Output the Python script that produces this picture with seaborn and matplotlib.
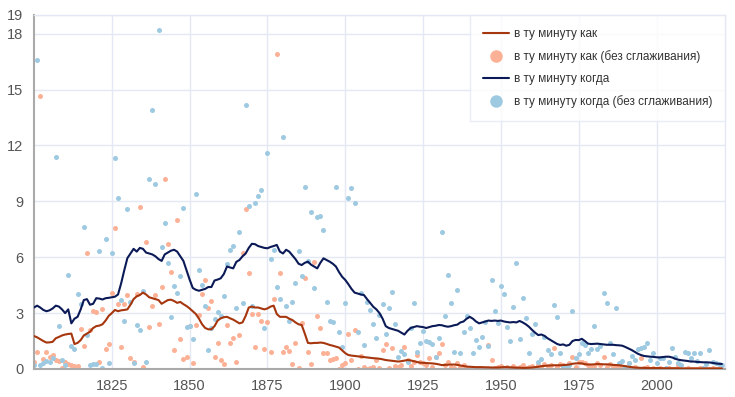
import numpy as np
import pandas as pd
import matplotlib
matplotlib.use("Agg")
import matplotlib.pyplot as plt
from matplotlib.lines import Line2D
import seaborn as sns

# years 1800..2021, one value per year
years = list(range(1800, 2022))

# "в ту минуту как" raw values
kak_raw = [
    0.4, 0.93, 14.67, 0.52, 0.93, 0.62, 0.75, 0.46, 0.45, 0.03,
    0.35, 0.25, 0.2, 0.18, 0.15, 2.14, 1.25, 6.2, 2.1, 3.1,
    3.05, 0.4, 3.2, 1.1, 1.35, 4.1, 7.55, 3.5, 1.2, 3.5,
    3.98, 0.57, 0.4, 4.0, 8.7, 0.1, 6.83, 2.27, 3.38, 3.97,
    2.4, 4.4, 10.2, 6.7, 5.2, 1.0, 7.99, 1.6, 0.52, 0.62,
    2.3, 0.3, 2.35, 2.9, 4.0, 4.8, 3.3, 3.67, 0.62, 1.4,
    0.46, 0.27, 2.35, 1.4, 1.64, 0.4, 1.8, 6.2, 8.6, 5.14,
    2.97, 1.16, 2.97, 2.6, 1.1, 2.5, 0.93, 3.74, 16.9, 5.17,
    0.93, 1.2, 0.98, 0.27, 1.4, 0.03, 2.45, 4.87, 0.9, 0.27,
    5.76, 2.85, 2.2, 0.84, 0.84, 0.5, 0.55, 0.6, 0.0, 0.2,
    0.3, 1.88, 0.46, 2.1, 0.0, 0.7, 0.1, 0.0, 0.05, 0.1,
    0.5, 0.03, 1.0, 1.33, 0.03, 1.14, 0.15, 0.1, 0.2, 1.2,
    0.5, 0.14, 0.4, 0.75, 0.4, 0.3, 0.2, 0.57, 0.1, 0.62,
    0.88, 1.33, 0.2, 0.4, 0.1, 0.05, 0.3, 0.1, 0.2, 0.0,
    0.0, 0.02, 0.0, 0.05, 0.0, 0.02, 1.28, 0.5, 0.05, 0.1,
    0.15, 0.05, 0.1, 0.02, 0.15, 0.05, 0.1, 0.2, 0.05, 0.1,
    0.15, 0.05, 0.2, 0.1, 0.25, 0.15, 0.2, 1.14, 0.1, 0.25,
    0.2, 0.15, 0.3, 0.66, 0.1, 0.35, 0.4, 0.3, 0.2, 0.1,
    0.15, 0.3, 0.2, 0.63, 0.1, 0.25, 0.15, 0.1, 0.2, 0.05,
    0.1, 0.34, 0.05, 0.1, 0.02, 0.6, 0.05, 0.1, 0.02, 0.05,
    0.0, 0.05, 0.02, 0.0, 0.05, 0.02, 0.0, 0.2, 0.02, 0.0,
    0.05, 0.0, 0.02, 0.0, 0.05, 0.0, 0.02, 0.0, 0.05, 0.0,
    0.0, 0.02,
]

# "в ту минуту когда" raw values
kogda_raw = [
    0.2, 16.6, 0.2, 0.3, 0.45, 0.35, 0.6, 11.4, 2.3, 0.5,
    0.2, 5.05, 1.25, 1.1, 4.03, 3.5, 7.6, 1.8, 0.2, 0.25,
    0.25, 6.35, 0.03, 7.0, 0.3, 6.2, 11.3, 9.16, 3.7, 2.56,
    8.6, 3.6, 0.3, 2.35, 2.1, 4.2, 0.4, 10.2, 13.9, 9.95,
    18.2, 6.57, 7.86, 5.67, 2.8, 4.45, 4.07, 4.99, 8.65, 2.27,
    2.3, 1.6, 9.4, 5.3, 4.5, 3.4, 1.0, 2.2, 2.7, 3.06,
    2.85, 3.9, 5.64, 6.4, 6.6, 3.29, 7.36, 3.56, 14.15, 8.75,
    3.4, 8.9, 9.3, 9.6, 2.2, 11.6, 5.9, 6.4, 4.4, 3.74,
    12.47, 3.38, 2.6, 3.6, 4.6, 6.35, 5.0, 9.75, 5.8, 8.45,
    4.37, 8.14, 8.2, 7.46, 3.6, 2.6, 2.5, 9.75, 2.0, 1.2,
    3.56, 9.2, 9.73, 8.93, 1.99, 4.06, 1.28, 3.6, 3.16, 2.4,
    1.64, 2.9, 3.49, 1.88, 3.25, 4.15, 2.4, 0.66, 0.96, 0.78,
    0.4, 2.2, 3.56, 0.89, 1.37, 2.04, 1.5, 1.43, 1.33, 0.66,
    1.68, 7.34, 2.86, 5.04, 3.56, 0.93, 4.24, 0.84, 2.0, 2.84,
    2.2, 0.88, 1.56, 1.16, 1.7, 2.5, 1.23, 4.8, 3.1, 2.46,
    4.47, 4.03, 2.27, 1.5, 3.35, 5.7, 1.6, 3.83, 2.72, 0.84,
    1.9, 2.4, 0.4, 0.54, 1.74, 1.0, 0.8, 3.43, 2.77, 0.88,
    0.1, 0.15, 0.2, 3.1, 0.6, 0.78, 1.37, 1.28, 0.88, 1.1,
    2.3, 1.05, 1.23, 4.06, 3.56, 1.41, 0.78, 3.25, 0.3, 0.43,
    0.1, 0.34, 0.72, 0.5, 1.05, 1.14, 1.2, 1.37, 0.5, 0.84,
    0.3, 0.6, 0.57, 0.03, 0.4, 1.14, 0.66, 0.34, 0.2, 0.93,
    0.88, 0.6, 0.88, 0.45, 0.84, 0.03, 0.27, 1.0, 0.4, 0.3,
    0.25, 0.2,
]

# smoothed lines
kak_smooth = [
    1.77, 1.7, 1.6, 1.5, 1.42, 1.43, 1.46, 1.65, 1.72, 1.8,
    1.85, 1.88, 1.9, 1.34, 1.4, 1.55, 1.8, 1.9, 2.0, 2.2,
    2.3, 2.33, 2.4, 2.6, 2.85, 3.0, 3.17, 3.1, 3.15, 3.17,
    3.2, 3.45, 3.75, 3.9, 3.97, 4.1, 4.0, 3.85, 3.8, 3.75,
    3.7, 3.5, 3.6, 3.7, 3.72, 3.65, 3.55, 3.6, 3.48, 3.38,
    3.25, 3.1, 2.95, 2.7, 2.4, 2.2, 2.13, 2.13, 2.3, 2.6,
    2.72, 2.78, 2.8, 2.72, 2.65, 2.55, 2.45, 2.5, 2.85, 3.3,
    3.35, 3.3, 3.3, 3.25, 3.2, 3.25, 3.35, 3.4, 2.95, 2.8,
    2.8, 2.8, 2.7, 2.63, 2.5, 2.4, 2.36, 1.9, 1.4, 1.38,
    1.4, 1.4, 1.42, 1.4, 1.35, 1.29, 1.25, 1.2, 1.15, 1.0,
    0.85, 0.75, 0.72, 0.7, 0.68, 0.66, 0.64, 0.62, 0.6, 0.58,
    0.57, 0.55, 0.52, 0.48, 0.46, 0.44, 0.42, 0.4, 0.42, 0.45,
    0.48, 0.46, 0.42, 0.38, 0.34, 0.33, 0.32, 0.31, 0.3, 0.28,
    0.25, 0.21, 0.22, 0.23, 0.24, 0.24, 0.22, 0.19, 0.16, 0.13,
    0.12, 0.11, 0.1, 0.1, 0.1, 0.09, 0.09, 0.08, 0.08, 0.08,
    0.09, 0.1, 0.1, 0.09, 0.08, 0.07, 0.07, 0.06, 0.06, 0.07,
    0.08, 0.1, 0.12, 0.15, 0.17, 0.18, 0.19, 0.2, 0.2, 0.2,
    0.21, 0.22, 0.24, 0.28, 0.3, 0.31, 0.3, 0.26, 0.24, 0.24,
    0.25, 0.27, 0.26, 0.25, 0.25, 0.24, 0.22, 0.21, 0.2, 0.18,
    0.15, 0.12, 0.1, 0.08, 0.07, 0.06, 0.06, 0.05, 0.05, 0.05,
    0.05, 0.05, 0.04, 0.04, 0.04, 0.04, 0.04, 0.04, 0.03, 0.03,
    0.03, 0.03, 0.03, 0.03, 0.03, 0.03, 0.03, 0.03, 0.03, 0.03,
    0.03, 0.03,
]

kogda_smooth = [
    3.3, 3.4, 3.3, 3.17, 3.1, 3.15, 3.25, 3.4, 3.35, 3.2,
    3.0, 3.2, 2.45, 2.7, 2.8, 3.2, 3.7, 3.75, 3.45, 3.5,
    3.8, 3.78, 3.73, 3.8, 3.82, 3.85, 3.88, 4.0, 4.6, 5.3,
    5.95, 6.2, 6.45, 6.3, 6.5, 6.45, 6.25, 6.2, 6.15, 6.05,
    5.9, 5.8, 6.15, 6.25, 6.35, 6.4, 6.3, 6.05, 5.8, 5.3,
    4.8, 4.35, 4.25, 4.2, 4.25, 4.3, 4.4, 4.4, 4.75, 4.8,
    4.87, 5.1, 5.5, 5.45, 5.4, 5.75, 5.85, 6.05, 6.2, 6.5,
    6.72, 6.7, 6.6, 6.55, 6.5, 6.48, 6.55, 6.6, 6.66, 6.3,
    6.2, 6.4, 6.3, 6.1, 5.9, 5.65, 5.58, 5.7, 5.76, 5.6,
    5.5, 5.4, 5.7, 5.94, 5.85, 5.76, 5.65, 5.5, 5.2, 4.95,
    4.78, 4.55, 4.3, 4.1, 4.05, 4.0, 3.97, 3.75, 3.55, 3.34,
    3.2, 3.0, 2.7, 2.3, 2.2, 2.15, 2.1, 2.05, 1.95, 1.85,
    2.05, 2.2, 2.25, 2.3, 2.27, 2.25, 2.2, 2.25, 2.3, 2.32,
    2.36, 2.35, 2.3, 2.27, 2.3, 2.35, 2.38, 2.5, 2.55, 2.7,
    2.8, 2.7, 2.55, 2.45, 2.5, 2.55, 2.6, 2.58, 2.6, 2.58,
    2.6, 2.55, 2.52, 2.5, 2.52, 2.5, 2.58, 2.5, 2.4, 2.27,
    2.1, 1.95, 1.82, 1.85, 1.78, 1.65, 1.55, 1.45, 1.35, 1.29,
    1.32, 1.25, 1.3, 1.5, 1.56, 1.55, 1.62, 1.5, 1.36, 1.34,
    1.35, 1.36, 1.34, 1.32, 1.3, 1.3, 1.3, 1.28, 1.27, 1.25,
    1.18, 1.1, 1.02, 0.92, 0.82, 0.75, 0.7, 0.68, 0.66, 0.65,
    0.63, 0.62, 0.64, 0.66, 0.66, 0.62, 0.55, 0.5, 0.47, 0.45,
    0.43, 0.4, 0.4, 0.38, 0.37, 0.36, 0.36, 0.35, 0.33, 0.3,
    0.28, 0.27,
]

x_ticks = [1825, 1850, 1875, 1900, 1925, 1950, 1975, 2000]
y_ticks = [0, 3, 6, 9, 12, 15, 18, 19]

labels = ["в ту минуту как", "в ту минуту как (без сглаживания)",
          "в ту минуту когда", "в ту минуту когда (без сглаживания)"]

df = pd.DataFrame({
    "year": years,
    "kak_raw": kak_raw,
    "kogda_raw": kogda_raw,
    "kak_smooth": kak_smooth,
    "kogda_smooth": kogda_smooth,
})

sns.set_style("white")
plt.rcParams["font.family"] = ["Liberation Sans", "DejaVu Sans"]

c_kak_line = "#a6360d"
c_kak_dot = "#fcb196"
c_kogda_line = "#0b1a57"
c_kogda_dot = "#9ecae1"
grid_c = "#e4e7f4"

fig = plt.figure(figsize=(7.35, 3.97), dpi=100)
ax = fig.add_axes([34 / 735, 1 - 369 / 397, (725 - 34) / 735, (369 - 15) / 397])

sns.scatterplot(data=df, x="year", y="kak_raw", color=c_kak_dot, s=13,
                linewidth=0, ax=ax, zorder=2)
sns.scatterplot(data=df, x="year", y="kogda_raw", color=c_kogda_dot, s=13,
                linewidth=0, ax=ax, zorder=2)
sns.lineplot(data=df, x="year", y="kak_smooth", color=c_kak_line, lw=1.5,
             ax=ax, zorder=3)
sns.lineplot(data=df, x="year", y="kogda_smooth", color=c_kogda_line, lw=1.5,
             ax=ax, zorder=3)

ax.set_xlim(1800, 2022)
ax.set_ylim(0, 19)
ax.set_xticks(x_ticks)
ax.set_yticks(y_ticks)
ax.set_xlabel("")
ax.set_ylabel("")
ax.grid(True, color=grid_c, lw=1)
ax.set_axisbelow(True)

for s in ["top", "right"]:
    ax.spines[s].set_color(grid_c)
    ax.spines[s].set_linewidth(1)
for s in ["left", "bottom"]:
    ax.spines[s].set_color("#aaaaaa")
    ax.spines[s].set_linewidth(1.5)
ax.tick_params(axis="both", labelsize=10.5, colors="#555555", length=4,
               width=1, direction="out")
ax.tick_params(axis="both", color="#888888")

handles = [
    Line2D([], [], color=c_kak_line, lw=1.5),
    Line2D([], [], color=c_kak_dot, marker="o", ls="", markersize=8),
    Line2D([], [], color=c_kogda_line, lw=1.5),
    Line2D([], [], color=c_kogda_dot, marker="o", ls="", markersize=8),
]
leg = ax.legend(handles, labels, loc="upper right", bbox_to_anchor=(1.0, 1.0),
                borderaxespad=0.0, fontsize=8.5, frameon=True, handlelength=2.2,
                labelspacing=0.85, borderpad=1.1, handletextpad=0.4,
                fancybox=False)
leg.get_frame().set_edgecolor(grid_c)
leg.get_frame().set_linewidth(1)
for t in leg.get_texts():
    t.set_color("#333333")

fig.savefig("out.png", dpi=100)
